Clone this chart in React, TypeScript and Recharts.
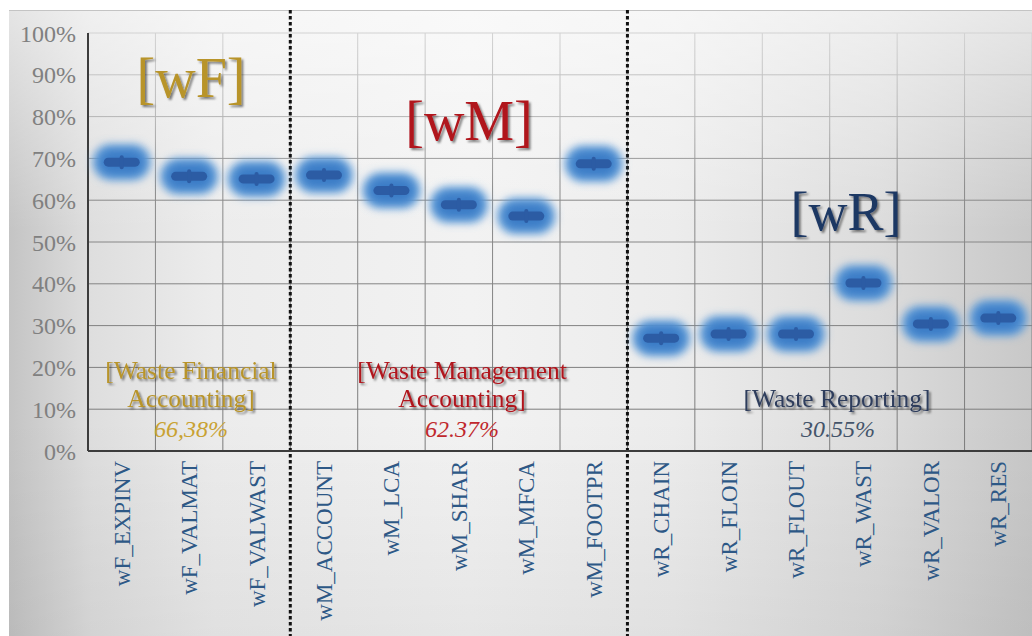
import { ComposedChart, Line, XAxis, YAxis, CartesianGrid, ReferenceLine } from "recharts";

// indicators, grouped by block (wF / wM / wR)
const categories = [
  "wF_EXPINV", "wF_VALMAT", "wF_VALWAST",
  "wM_ACCOUNT", "wM_LCA", "wM_SHAR", "wM_MFCA", "wM_FOOTPR",
  "wR_CHAIN", "wR_FLOIN", "wR_FLOUT", "wR_WAST", "wR_VALOR", "wR_RES",
];
const scores = [69.1, 65.7, 65.1, 66.0, 62.3, 58.9, 56.2, 68.7, 27.0, 28.0, 28.0, 40.2, 30.4, 31.8];
const groupLast = ["wF_VALWAST", "wM_FOOTPR"];
const yTicks = [0, 10, 20, 30, 40, 50, 60, 70, 80, 90, 100];

const data = categories.map((name, i) => ({ name, score: scores[i] }));

const serif = "'Liberation Serif', 'DejaVu Serif', serif";

const Marker = (props: any) => {
  const { cx, cy } = props;
  if (cx == null || cy == null) return null;
  return (
    <g>
      <rect x={cx - 29} y={cy - 18} width={58} height={36} rx={18} fill="#5f9bd8" filter="url(#glow)" />
      <rect x={cx - 22} y={cy - 12} width={44} height={24} rx={12} fill="#3b7bc6" filter="url(#glow)" />
      <rect x={cx - 18} y={cy - 4.5} width={36} height={9} rx={4.5} fill="#2c5ca4" />
      <rect x={cx - 2} y={cy - 7} width={4} height={14} rx={2} fill="#2c5ca4" />
    </g>
  );
};

const CategoryTick = ({ x, y, payload }: any) => (
  <text
    x={x}
    y={y}
    transform={`rotate(-90, ${x}, ${y})`}
    textAnchor="end"
    dy="0.35em"
    fill="#2d5886"
    fontSize={23}
    fontFamily={serif}
  >
    {payload.value}
  </text>
);

const Divider = (props: any) => (
  <line
    x1={props.x1}
    x2={props.x2}
    y1={10}
    y2={636}
    stroke="#111"
    strokeWidth={3}
    strokeDasharray="3.5 2.5"
  />
);

// vertical grid lines sit on the category boundaries, not on the tick centres
const bandEdges = ({ offset }: any) =>
  Array.from({ length: categories.length + 1 }, (_, i) => offset.left + (i * offset.width) / categories.length);

export default function App() {
  return (
    <div style={{ position: "fixed", left: 0, top: 0, width: 1032, height: 636, background: "#fff", overflow: "hidden" }}>
      <svg width={0} height={0} style={{ position: "absolute" }}>
        <defs>
          <filter id="glow" x="-60%" y="-90%" width="220%" height="280%">
            <feGaussianBlur stdDeviation={4.5} />
          </filter>
          <filter id="shadow" x="-10%" y="-10%" width="130%" height="140%">
            <feDropShadow dx={2} dy={2} stdDeviation={1} floodColor="#000" floodOpacity={0.5} />
          </filter>
          <linearGradient id="gridGrad" gradientUnits="userSpaceOnUse" x1="0" y1="10" x2="0" y2="451">
            <stop offset="0%" stopColor="#dadada" />
            <stop offset="25%" stopColor="#b4b4b4" />
            <stop offset="40%" stopColor="#8a8a8a" />
            <stop offset="100%" stopColor="#7a7a7a" />
          </linearGradient>
        </defs>
      </svg>
      <div
        style={{
          position: "absolute",
          left: 9,
          top: 10,
          width: 1023,
          height: 626,
          borderTop: "1px solid #c4c4c4",
          background:
            "linear-gradient(to bottom, rgba(255,255,255,0.55) 0%, rgba(255,255,255,0) 35%, rgba(0,0,0,0) 65%, rgba(0,0,0,0.05) 100%), " +
            "linear-gradient(to right, #c4c4c4 0%, #dedede 8%, #ececec 20%, #f2f2f2 45%, #ececec 65%, #dcdcdc 85%, #c8c8c8 100%)",
        }}
      />
      <div style={{ position: "absolute", left: 0, top: 0 }}>
        <ComposedChart width={1032} height={636} data={data} margin={{ top: 33, right: 0, bottom: 0, left: 0 }}>
          <CartesianGrid stroke="url(#gridGrad)" strokeWidth={1} verticalCoordinatesGenerator={bandEdges} />
          <XAxis
            dataKey="name"
            type="category"
            scale="band"
            interval={0}
            height={185}
            tickLine={false}
            tickSize={6}
            tickMargin={4}
            axisLine={{ stroke: "#3c3c3c", strokeWidth: 2 }}
            tick={<CategoryTick />}
          />
          <YAxis
            domain={[0, 100]}
            ticks={yTicks}
            width={88}
            tickFormatter={(v) => `${v}%`}
            tickLine={false}
            tickSize={4}
            tickMargin={8}
            axisLine={{ stroke: "#3c3c3c", strokeWidth: 2 }}
            tick={{ fill: "#808080", fontSize: 24, fontFamily: serif }}
          />
          {groupLast.map((c) => (
            <ReferenceLine key={c} x={c} position="end" shape={<Divider />} />
          ))}
          <Line
            dataKey="score"
            stroke="none"
            dot={<Marker />}
            activeDot={false}
            isAnimationActive={false}
          />
        </ComposedChart>
      </div>
      <svg width={1032} height={636} style={{ position: "absolute", left: 0, top: 0, pointerEvents: "none" }} fontFamily={serif}>
        <g filter="url(#shadow)">
          <text x={191} y={97} textAnchor="middle" fontSize={56} fill="#b8942a">[wF]</text>
          <text x={469} y={140} textAnchor="middle" fontSize={56} fill="#b0141c">[wM]</text>
          <text x={846} y={230} textAnchor="middle" fontSize={54} fill="#1f3864">[wR]</text>

          <text x={191} y={379} textAnchor="middle" fontSize={25.5} fill="#b8942a">[Waste Financial</text>
          <text x={191} y={407} textAnchor="middle" fontSize={25.5} fill="#b8942a">Accounting]</text>
          <text x={462} y={379} textAnchor="middle" fontSize={25.5} fill="#b0141c">[Waste Management</text>
          <text x={462} y={407} textAnchor="middle" fontSize={25.5} fill="#b0141c">Accounting]</text>
          <text x={837} y={407} textAnchor="middle" fontSize={25.5} fill="#2e3d5c">[Waste Reporting]</text>
        </g>
        <text x={191} y={437} textAnchor="middle" fontSize={24} fontStyle="italic" fill="#c9a233">66,38%</text>
        <text x={462} y={437} textAnchor="middle" fontSize={24} fontStyle="italic" fill="#c0282d">62.37%</text>
        <text x={838} y={437} textAnchor="middle" fontSize={24} fontStyle="italic" fill="#44546a">30.55%</text>
      </svg>
    </div>
  );
}
